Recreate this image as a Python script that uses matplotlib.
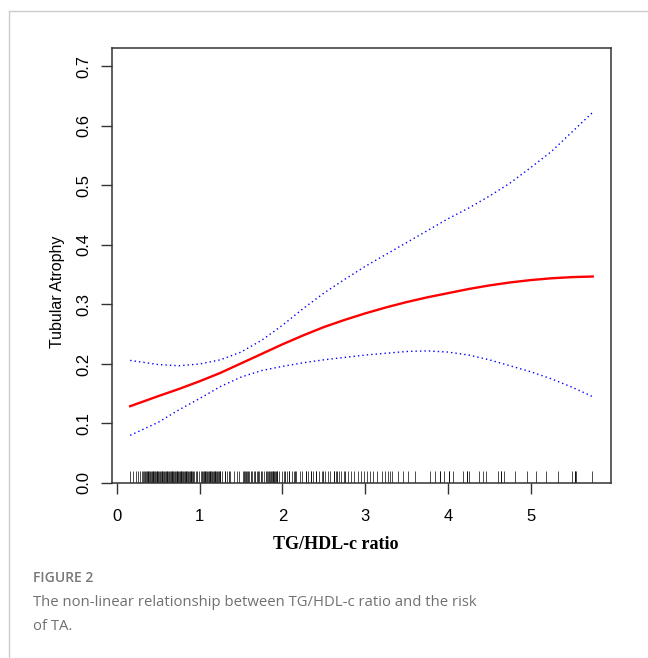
import numpy as np
import matplotlib.pyplot as plt
from matplotlib.lines import Line2D

# smooth curve
fit_x = [0.16, 0.5, 0.75, 1.0, 1.25, 1.5, 1.75, 2.0, 2.25, 2.5, 2.75, 3.0,
         3.25, 3.5, 3.75, 4.0, 4.25, 4.5, 4.75, 5.0, 5.25, 5.5, 5.75]
fit_y = [0.129, 0.146, 0.158, 0.171, 0.185, 0.201, 0.217, 0.233, 0.248, 0.262,
         0.274, 0.285, 0.295, 0.304, 0.312, 0.319, 0.326, 0.332, 0.337, 0.341,
         0.344, 0.346, 0.347]
ci_upper = [0.206, 0.199, 0.197, 0.200, 0.207, 0.220, 0.240, 0.265, 0.293, 0.319,
            0.342, 0.364, 0.384, 0.404, 0.424, 0.444, 0.462, 0.482, 0.504, 0.530,
            0.557, 0.590, 0.623]
ci_lower = [0.080, 0.102, 0.123, 0.142, 0.162, 0.178, 0.189, 0.196, 0.202, 0.207,
            0.211, 0.215, 0.218, 0.221, 0.222, 0.220, 0.215, 0.207, 0.197, 0.187,
            0.175, 0.161, 0.145]

# rug of observed TG/HDL-c values
rug_x = [0.16, 0.20, 0.23, 0.26, 0.28, 0.30, 0.32, 0.33, 0.35, 0.37, 0.39, 0.41,
         0.43, 0.45, 0.47, 0.49, 0.51, 0.53, 0.55, 0.56, 0.58, 0.60, 0.62, 0.64,
         0.66, 0.67, 0.69, 0.71, 0.73, 0.75, 0.77, 0.79, 0.81, 0.83, 0.85, 0.87,
         0.89, 0.91, 0.93, 0.96, 0.99, 1.02, 1.04, 1.06, 1.08, 1.10, 1.12, 1.14,
         1.16, 1.18, 1.20, 1.22, 1.24, 1.27, 1.30, 1.33, 1.37, 1.41, 1.45, 1.48,
         1.52, 1.55, 1.57, 1.60, 1.63, 1.66, 1.69, 1.72, 1.75, 1.78, 1.81, 1.83,
         1.85, 1.87, 1.89, 1.91, 1.93, 1.96, 1.99, 2.02, 2.05, 2.08, 2.11, 2.14,
         2.17, 2.21, 2.24, 2.28, 2.31, 2.34, 2.37, 2.41, 2.44, 2.48, 2.52, 2.55,
         2.58, 2.62, 2.65, 2.68, 2.71, 2.75, 2.79, 2.83, 2.87, 2.91, 2.95, 2.99,
         3.02, 3.06, 3.10, 3.14, 3.20, 3.24, 3.27, 3.30, 3.32, 3.40, 3.46, 3.52,
         3.60, 3.78, 3.84, 3.91, 3.95, 4.01, 4.06, 4.18, 4.23, 4.25, 4.37, 4.42,
         4.46, 4.61, 4.64, 4.68, 4.81, 4.96, 5.07, 5.19, 5.33, 5.50, 5.53, 5.55,
         5.74]
# darker clusters in the rug
rug_dense = [0.34, 0.36, 0.38, 0.40, 0.42, 0.44, 0.46, 0.48, 0.50, 0.52, 0.54,
             0.57, 0.59, 0.61, 0.63, 0.65, 0.68, 0.70, 0.72, 0.74, 0.76, 0.78,
             0.80, 0.82, 0.84, 0.86, 0.88, 0.90, 0.92, 0.97, 1.03, 1.05, 1.07,
             1.09, 1.11, 1.13, 1.15, 1.17, 1.19, 1.21, 1.23, 1.25, 1.31, 1.36,
             1.53, 1.56, 1.58, 1.62, 1.67, 1.71, 1.74, 1.80, 1.84, 1.86, 1.88,
             1.90, 1.92, 1.94, 2.03, 2.08, 2.15, 2.28, 2.35, 2.41, 2.49, 2.62,
             2.66, 2.76, 3.91, 4.01, 4.23, 4.64, 5.53]

x_ticks = [0, 1, 2, 3, 4, 5]
y_ticks = [0.0, 0.1, 0.2, 0.3, 0.4, 0.5, 0.6, 0.7]

fig = plt.figure(figsize=(6.48, 6.58), dpi=100)
ax = fig.add_axes([0.1728, 0.266, 0.770, 0.661])

ax.vlines(rug_x, 0, 0.02, color='black', linewidth=0.7, alpha=0.7)
ax.vlines(rug_dense, 0, 0.02, color='black', linewidth=0.7, alpha=0.8)

ax.plot(fit_x, ci_upper, color='blue', linestyle=(0, (1, 2.2)), linewidth=1.0)
ax.plot(fit_x, ci_lower, color='blue', linestyle=(0, (1, 2.2)), linewidth=1.0)
ax.plot(fit_x, fit_y, color='red', linewidth=1.7)

ax.set_xlim(-0.06, 5.97)
ax.set_ylim(0, 0.731)
ax.set_xticks(x_ticks)
ax.set_xticklabels([str(t) for t in x_ticks], fontfamily='Liberation Sans', fontsize=12)
ax.set_yticks(y_ticks)
ax.set_yticklabels(['%.1f' % t for t in y_ticks], fontfamily='Liberation Sans',
                   fontsize=12, rotation=90, va='center')
ax.tick_params(axis='x', length=8, width=1, pad=11, color='#333333')
ax.tick_params(axis='y', length=8, width=1, pad=7, color='#333333')
for s in ax.spines.values():
    s.set_color('#333333')
    s.set_linewidth(1.1)

ax.set_ylabel('Tubular Atrophy', fontfamily='Liberation Sans', fontsize=11.5)
ax.yaxis.set_label_coords(-0.095, 0.44)
ax.set_xlabel('TG/HDL-c ratio', fontfamily='Liberation Serif', fontweight='bold',
              fontsize=13)
ax.xaxis.set_label_coords(0.449, -0.121)

# caption
fig.text(33 / 648, 1 - 578 / 658, 'FIGURE 2', fontfamily='Open Sans', fontsize=10,
         color='#777777', va='center', fontweight='semibold')
fig.text(33 / 648, 1 - 603 / 658,
         'The non-linear relationship between TG/HDL-c ratio and the risk',
         fontfamily='Open Sans', fontsize=10.7, color='#707070', va='center')
fig.text(33 / 648, 1 - 627 / 658, 'of TA.', fontfamily='Open Sans', fontsize=10.7,
         color='#707070', va='center')

# light page frame
fig.add_artist(Line2D([9 / 648, 1], [1 - 11 / 658, 1 - 11 / 658],
                      transform=fig.transFigure, color='#cccccc', linewidth=1))
fig.add_artist(Line2D([9 / 648, 9 / 648], [0, 1 - 11 / 658],
                      transform=fig.transFigure, color='#cccccc', linewidth=1))

fig.savefig('out.png', dpi=100)
